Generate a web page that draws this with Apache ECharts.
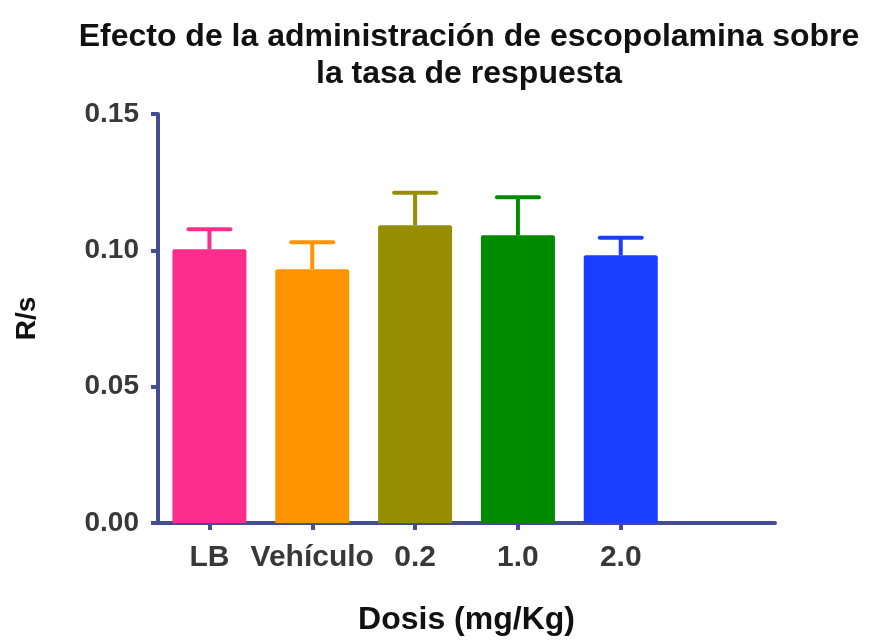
<!DOCTYPE html>
<html>
<head>
<meta charset="utf-8">
<script src="https://cdn.jsdelivr.net/npm/echarts@6/dist/echarts.min.js"></script>
<style>html,body{margin:0;padding:0;background:#fff;}#c{width:877px;height:641px;}</style>
</head>
<body>
<div id="c"></div>
<script>
var categories = ['LB', 'Vehículo', '0.2', '1.0', '2.0'];
var means = [0.1004, 0.0931, 0.1092, 0.1055, 0.0982];
var errors = [0.0073, 0.0099, 0.0119, 0.0140, 0.0064];
var colors = ['#FB2E8D', '#FF9300', '#978D00', '#008A00', '#1A3DFF'];
var yTicks = [0, 0.05, 0.10, 0.15];

var axisColor = '#444C92';
var FONT = 'Liberation Sans, Arial, sans-serif';

var axisCats = categories.concat(['']);
var chart = echarts.init(document.getElementById('c'));
chart.setOption({
  backgroundColor: '#fff',
  animation: false,
  title: {
    text: 'Efecto de la administración de escopolamina sobre\nla tasa de respuesta',
    left: 464, top: 14, textAlign: 'center',
    textStyle: {fontFamily: FONT, fontSize: 32, fontWeight: 'bold', color: '#111', lineHeight: 37}
  },
  grid: {left: 158, top: 114, right: 102, bottom: 116},
  xAxis: {
    type: 'category', data: axisCats,
    name: 'Dosis (mg/Kg)', nameLocation: 'middle', nameGap: 81,
    nameTextStyle: {fontFamily: FONT, fontSize: 32, fontWeight: 'bold', color: '#111'},
    axisLine: {lineStyle: {color: axisColor, width: 4}},
    axisTick: {show: true, alignWithLabel: true, length: 7, lineStyle: {color: axisColor, width: 4},
      interval: function (i) { return i < categories.length; }},
    axisLabel: {interval: 0, fontFamily: FONT, fontSize: 30, fontWeight: 'bold', color: '#383838', margin: 20}
  },
  yAxis: {
    type: 'value', min: 0, max: 0.15, interval: 0.05,
    name: 'R/s', nameLocation: 'middle', nameGap: 117, nameRotate: 90,
    nameTextStyle: {fontFamily: FONT, fontSize: 28, fontWeight: 'bold', color: '#111'},
    axisLine: {show: true, lineStyle: {color: axisColor, width: 4}},
    axisTick: {show: true, length: 7, lineStyle: {color: axisColor, width: 4}},
    splitLine: {show: false},
    axisLabel: {fontFamily: FONT, fontSize: 28, fontWeight: 'bold', color: '#383838', margin: 19,
      formatter: function (v) { return v.toFixed(2); }}
  },
  series: [
    {
      type: 'bar', barWidth: 74,
      data: means.map(function (m, i) { return {value: m, itemStyle: {color: colors[i], borderRadius: [2,2,0,0]}}; })
    },
    {
      type: 'custom', z: 1,
      data: means.map(function (m, i) { return [i, m, m + errors[i]]; }),
      renderItem: function (params, api) {
        var i = api.value(0);
        var b = api.coord([i, api.value(1)]);
        var t = api.coord([i, api.value(2)]);
        var hw = 21;
        var c = colors[i];
        return {
          type: 'group',
          children: [
            {type: 'line', shape: {x1: b[0], y1: b[1], x2: t[0], y2: t[1]}, style: {stroke: c, lineWidth: 4}},
            {type: 'line', shape: {x1: t[0] - hw, y1: t[1], x2: t[0] + hw, y2: t[1]}, style: {stroke: c, lineWidth: 4, lineCap: 'round'}}
          ]
        };
      }
    }
  ]
});
</script>
</body>
</html>
